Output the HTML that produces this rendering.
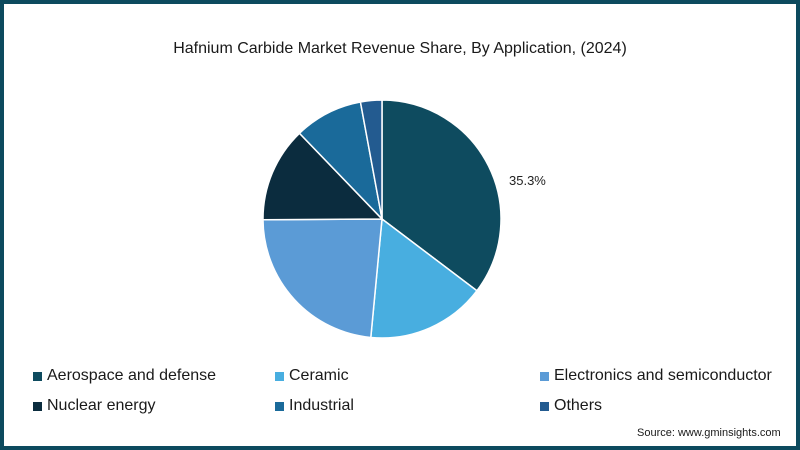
<!DOCTYPE html>
<html><head><meta charset="utf-8"><style>
body{margin:0;width:800px;height:450px;overflow:hidden;font-family:"Liberation Sans",sans-serif}
#frame{position:absolute;left:0;top:0;width:792px;height:442px;border:4px solid #0d4a5e;background:#fff}
.t{position:absolute;white-space:nowrap;color:#1a1a1a}
.sq{position:absolute;width:9px;height:9px}
</style></head><body>
<div id="frame"></div>
<div class="t" style="left:0;width:800px;text-align:center;top:40px;font-size:16px">Hafnium Carbide Market Revenue Share, By Application, (2024)</div>
<svg id="pie" width="800" height="450" style="position:absolute;left:0;top:0"></svg>
<div id="legend"></div>
<div class="t" style="left:637px;top:427px;font-size:11px">Source: www.gminsights.com</div>
<script>
const categories=["Aerospace and defense","Ceramic","Electronics and semiconductor","Nuclear energy","Industrial","Others"];
const shares=[35.3,16.2,23.4,12.9,9.3,2.9];
const colors=["#0e4b5f","#48aee0","#5b9bd6","#0b2c3e","#1a6a9a","#235b90"];
const shownLabels=["35.3%","","","","",""];
const svg=document.getElementById('pie');
const cx=382,cy=219,r=119;
const total=shares.reduce((a,b)=>a+b,0);
let a0=0;
const ns="http://www.w3.org/2000/svg";
shares.forEach((v,i)=>{
  const a1=a0+v/total*2*Math.PI;
  const x0=cx+r*Math.sin(a0),y0=cy-r*Math.cos(a0),x1=cx+r*Math.sin(a1),y1=cy-r*Math.cos(a1);
  const p=document.createElementNS(ns,'path');
  p.setAttribute('d',`M${cx},${cy}L${x0},${y0}A${r},${r} 0 ${a1-a0>Math.PI?1:0} 1 ${x1},${y1}Z`);
  p.setAttribute('fill',colors[i]);p.setAttribute('stroke','#fff');p.setAttribute('stroke-width','1.5');
  
  
  svg.appendChild(p);
  if(shownLabels[i]){
    const t=document.createElementNS(ns,'text');
    t.setAttribute('x',509);t.setAttribute('y',185);t.setAttribute('font-size','13');t.setAttribute('fill','#222');
    t.textContent=shownLabels[i];
    
    
    svg.appendChild(t);
  }
  a0=a1;
});
const lx=[33,275,540],ly=[372,402];
const lg=document.getElementById('legend');
categories.forEach((c,i)=>{
  const x=lx[i%3],y=ly[Math.floor(i/3)];
  const s=document.createElement('div');s.className='sq';s.style.left=x+'px';s.style.top=y+'px';s.style.background=colors[i];
  
  
  const t=document.createElement('div');t.className='t';t.style.left=(x+14)+'px';t.style.top=(y-5)+'px';t.style.fontSize='16px';t.textContent=c;
  
  
  lg.appendChild(s);lg.appendChild(t);
});
</script>
</body></html>
